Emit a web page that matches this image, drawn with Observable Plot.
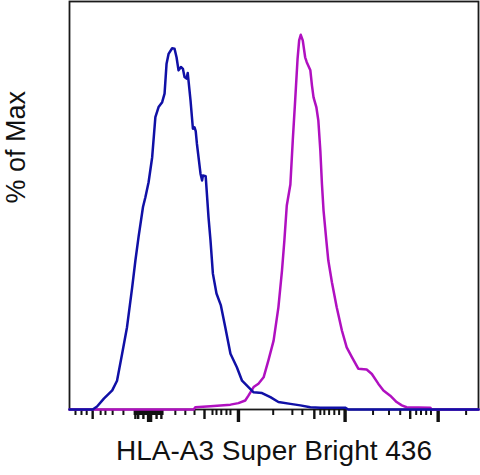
<!DOCTYPE html>
<html>
<head>
<meta charset="utf-8">
<script src="https://cdn.jsdelivr.net/npm/d3@7"></script>
<script src="https://cdn.jsdelivr.net/npm/@observablehq/plot@0.6"></script>
<style>
  html, body { margin: 0; padding: 0; background: #fff; }
  #chart { width: 480px; height: 475px; }
</style>
</head>
<body>
<div id="chart"></div>
<script>
// Display channel (0–1024) on the biexponential x axis; % of Max on y
const isotypeX = [0, 58, 69, 86, 107, 119, 132, 144, 157, 165, 173, 184, 190, 198, 207, 215, 223, 232, 238, 243, 248, 257, 263, 268, 273, 279, 284, 288, 293, 296, 303, 309, 313, 316, 319, 328, 332, 334, 341, 348, 353, 359, 368, 379, 390, 403, 419, 432, 448, 461, 482, 503, 523, 553, 578, 603, 628, 690, 698, 1024];
const isotypeY = [0, 0, 0.8, 2.9, 5.1, 7.7, 15.0, 22.0, 32.7, 39.8, 46.2, 54.1, 56.7, 60.7, 67.4, 78.1, 80.8, 82.1, 84.4, 92.4, 95.0, 96.5, 96.4, 94.1, 90.6, 91.5, 91.0, 88.8, 88.4, 89.9, 82.6, 75.0, 75.4, 74.4, 71.0, 63.0, 61.2, 62.5, 62.3, 51.4, 45.2, 36.3, 31.0, 27.8, 22.0, 14.9, 11.3, 7.7, 6.0, 4.6, 4.4, 3.3, 2.0, 1.5, 1.1, 0.6, 0.5, 0.5, 0, 0];

const stainedX = [0, 311, 315, 353, 378, 403, 423, 440, 448, 461, 473, 486, 498, 511, 523, 532, 538, 544, 553, 559, 565, 571, 575, 579, 584, 590, 594, 603, 607, 611, 618, 623, 628, 632, 636, 643, 648, 657, 669, 682, 694, 707, 723, 744, 757, 773, 786, 803, 819, 832, 844, 903, 907, 1024];
const stainedY = [0, 0, 0.6, 0.9, 1.1, 1.3, 1.7, 2.4, 3.7, 6.0, 6.9, 8.6, 13.1, 18.4, 27.3, 37.1, 45.2, 54.5, 60.1, 71.9, 82.6, 93.7, 98.6, 100.1, 98.6, 94.1, 92.8, 90.6, 86.6, 83.4, 80.8, 77.2, 69.2, 60.3, 53.2, 45.2, 39.8, 34.0, 27.3, 21.1, 16.6, 14.0, 10.9, 10.7, 9.5, 6.9, 5.1, 3.7, 2.0, 1.1, 0.6, 0.5, 0, 0];

// Tick positions (display channels)
const minorTicks = [15, 30, 43, 78, 90, 108, 135,
  163, 166, 169, 172, 175, 178, 181, 184, 187, 190, 193, 196, 200, 203, 206, 209, 212, 215, 218, 221, 224, 227, 230, 233,
  265, 290, 313, 358, 368, 380, 393, 403,
  510, 558, 583, 628, 638, 650, 663, 675,
  760, 800, 828, 868, 880, 893, 905, 993];
const mediumTicks = [58, 165, 172, 185, 218, 230, 338, 613, 853];
const majorTicks = [198, 203, 423, 690, 923];

const xLabel = "HLA-A3 Super Bright 436";
const yLabel = "% of Max";

const isotype = isotypeX.map((x, i) => ({x, y: isotypeY[i]}));
const stained = stainedX.map((x, i) => ({x, y: stainedY[i]}));

const plot = Plot.plot({
  width: 480,
  height: 475,
  marginTop: 1,
  marginLeft: 69,
  marginRight: 2,
  marginBottom: 66,
  style: {fontFamily: "'Liberation Sans', Arial, sans-serif", background: "#fff"},
  x: {type: "linear", domain: [0, 1024]},
  y: {domain: [0, 109], axis: null},
  marks: [
    Plot.frame({stroke: "#1a1a1a", strokeWidth: 1.8}),
    Plot.axisX({ticks: minorTicks, tickSize: 6, strokeWidth: 2, stroke: "#111", tickFormat: () => "", label: null}),
    Plot.axisX({ticks: mediumTicks, tickSize: 10, strokeWidth: 2.4, stroke: "#111", tickFormat: () => "", label: null}),
    Plot.axisX({ticks: majorTicks, tickSize: 13, strokeWidth: 3.4, stroke: "#111", tickFormat: () => "", label: null}),
    Plot.line(stained, {x: "x", y: "y", stroke: "#b010c0", strokeWidth: 2.5}),
    Plot.line(isotype, {x: "x", y: "y", stroke: "#1010a6", strokeWidth: 2.5}),
    Plot.text([xLabel], {frameAnchor: "bottom", dy: 50, fontSize: 28, fill: "#111", text: d => d}),
    Plot.text([yLabel], {frameAnchor: "left", dx: -53, dy: -2, rotate: -90, fontSize: 27, fill: "#111", text: d => d})
  ]
});
document.getElementById("chart").appendChild(plot);
</script>
</body>
</html>
